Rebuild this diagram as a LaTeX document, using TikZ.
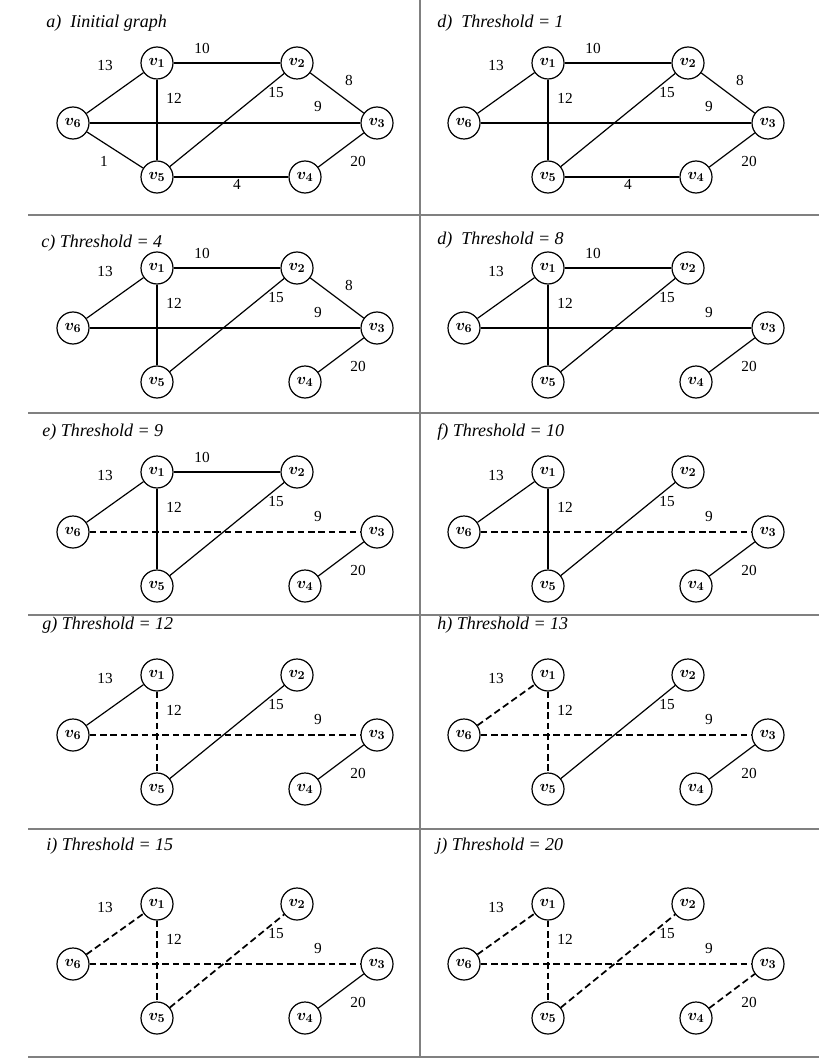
\documentclass[tikz,border=0pt]{standalone}
\usepackage{fontspec}
\setmainfont{Liberation Serif}

% posizioni dei pesi rispetto a v1
\tikzset{
  vtx/.style={draw, circle, line width=0.9pt, minimum size=24pt, inner sep=0pt,
    font=\fontsize{13}{15}\selectfont\boldmath},
  peso/.style={font=\fontsize{11.5}{13}\selectfont, inner sep=0pt},
  titolo/.style={anchor=west, inner sep=0pt, font=\fontsize{13.5}{16}\selectfont\itshape},
  pieno/.style={line width=0.9pt},
  tagliato/.style={line width=1.3pt, dash pattern=on 5pt off 2.8pt},
  cornice/.style={gray, line width=0.9pt},
  w13/.style={at={(-52,3)}},  w10/.style={at={(45,-15)}},
  w8/.style={at={(192,17)}},  w12/.style={at={(17,35)}},
  w15/.style={at={(119,30)}}, w9/.style={at={(161,44)}},
  w1/.style={at={(-53,98)}},  w20/.style={at={(201,98)}},
  w4/.style={at={(80,121)}}
}

\newcommand{\vertici}[1]{%
  \foreach \n/\x/\y in {1/0/0,2/140/0,3/220/60,4/148/114,5/0/114,6/-84/60}
    \node[vtx] (#1v\n) at (\x,\y) {$v_{\n}$};}
\newcommand{\arco}[5]{%
  \draw[#1] (#2v#3) -- (#2v#4);
  \node[peso,w#5] (#2w#5) {#5};}

\begin{document}
\begin{tikzpicture}[x=0.75pt,y=-0.75pt]
  \useasboundingbox (0,0) rectangle (819,1059);
  % cornice dei riquadri
  \draw[cornice] (420,0) -- (420,1057);
  \foreach \y in {215,413,615,829,1057}
    \draw[cornice] (28,\y) -- (819,\y);

  % a) grafo iniziale
  \begin{scope}[shift={(157,63)}]
    \vertici{a}
    \node[titolo] (ta) at (-111,-40) {a)\ \ Iinitial graph};
    \arco{pieno}{a}{6}{1}{13} \arco{pieno}{a}{1}{2}{10}
    \arco{pieno}{a}{2}{3}{8}  \arco{pieno}{a}{1}{5}{12}
    \arco{pieno}{a}{5}{2}{15} \arco{pieno}{a}{6}{3}{9}
    \arco{pieno}{a}{6}{5}{1}  \arco{pieno}{a}{3}{4}{20}
    \arco{pieno}{a}{5}{4}{4}
  \end{scope}

  % d) soglia 1
  \begin{scope}[shift={(548,63)}]
    \vertici{b}
    \node[titolo] (tb) at (-111,-40) {d)\ \ Threshold = 1};
    \arco{pieno}{b}{6}{1}{13} \arco{pieno}{b}{1}{2}{10}
    \arco{pieno}{b}{2}{3}{8}  \arco{pieno}{b}{1}{5}{12}
    \arco{pieno}{b}{5}{2}{15} \arco{pieno}{b}{6}{3}{9}
    \arco{pieno}{b}{3}{4}{20} \arco{pieno}{b}{5}{4}{4}
  \end{scope}

  % c) soglia 4
  \begin{scope}[shift={(157,268)}]
    \vertici{c}
    \node[titolo] (tc) at (-116,-25) {c) Threshold = 4};
    \arco{pieno}{c}{6}{1}{13} \arco{pieno}{c}{1}{2}{10}
    \arco{pieno}{c}{2}{3}{8}  \arco{pieno}{c}{1}{5}{12}
    \arco{pieno}{c}{5}{2}{15} \arco{pieno}{c}{6}{3}{9}
    \arco{pieno}{c}{3}{4}{20}
  \end{scope}

  % d) soglia 8
  \begin{scope}[shift={(548,268)}]
    \vertici{d}
    \node[titolo] (td) at (-111,-28) {d)\ \ Threshold = 8};
    \arco{pieno}{d}{6}{1}{13} \arco{pieno}{d}{1}{2}{10}
    \arco{pieno}{d}{1}{5}{12} \arco{pieno}{d}{5}{2}{15}
    \arco{pieno}{d}{6}{3}{9}  \arco{pieno}{d}{3}{4}{20}
  \end{scope}

  % e) soglia 9
  \begin{scope}[shift={(157,472)}]
    \vertici{e}
    \node[titolo] (te) at (-115,-40) {e) Threshold = 9};
    \arco{pieno}{e}{6}{1}{13} \arco{pieno}{e}{1}{2}{10}
    \arco{pieno}{e}{1}{5}{12} \arco{pieno}{e}{5}{2}{15}
    \arco{tagliato}{e}{6}{3}{9} \arco{pieno}{e}{3}{4}{20}
  \end{scope}

  % f) soglia 10
  \begin{scope}[shift={(548,472)}]
    \vertici{f}
    \node[titolo] (tf) at (-111,-40) {f) Threshold = 10};
    \arco{pieno}{f}{6}{1}{13} \arco{pieno}{f}{1}{5}{12}
    \arco{pieno}{f}{5}{2}{15} \arco{tagliato}{f}{6}{3}{9}
    \arco{pieno}{f}{3}{4}{20}
  \end{scope}

  % g) soglia 12
  \begin{scope}[shift={(157,675)}]
    \vertici{g}
    \node[titolo] (tg) at (-115,-50) {g) Threshold = 12};
    \arco{pieno}{g}{6}{1}{13} \arco{tagliato}{g}{1}{5}{12}
    \arco{pieno}{g}{5}{2}{15} \arco{tagliato}{g}{6}{3}{9}
    \arco{pieno}{g}{3}{4}{20}
  \end{scope}

  % h) soglia 13
  \begin{scope}[shift={(548,675)}]
    \vertici{h}
    \node[titolo] (th) at (-111,-50) {h) Threshold = 13};
    \arco{tagliato}{h}{6}{1}{13} \arco{tagliato}{h}{1}{5}{12}
    \arco{pieno}{h}{5}{2}{15} \arco{tagliato}{h}{6}{3}{9}
    \arco{pieno}{h}{3}{4}{20}
  \end{scope}

  % i) soglia 15
  \begin{scope}[shift={(157,904)}]
    \vertici{i}
    \node[titolo] (ti) at (-111,-58) {i) Threshold = 15};
    \arco{tagliato}{i}{6}{1}{13} \arco{tagliato}{i}{1}{5}{12}
    \arco{tagliato}{i}{5}{2}{15} \arco{tagliato}{i}{6}{3}{9}
    \arco{pieno}{i}{3}{4}{20}
  \end{scope}

  % j) soglia 20
  \begin{scope}[shift={(548,904)}]
    \vertici{j}
    \node[titolo] (tj) at (-112,-58) {j) Threshold = 20};
    \arco{tagliato}{j}{6}{1}{13} \arco{tagliato}{j}{1}{5}{12}
    \arco{tagliato}{j}{5}{2}{15} \arco{tagliato}{j}{6}{3}{9}
    \arco{tagliato}{j}{4}{3}{20}
  \end{scope}
\end{tikzpicture}
\end{document}
